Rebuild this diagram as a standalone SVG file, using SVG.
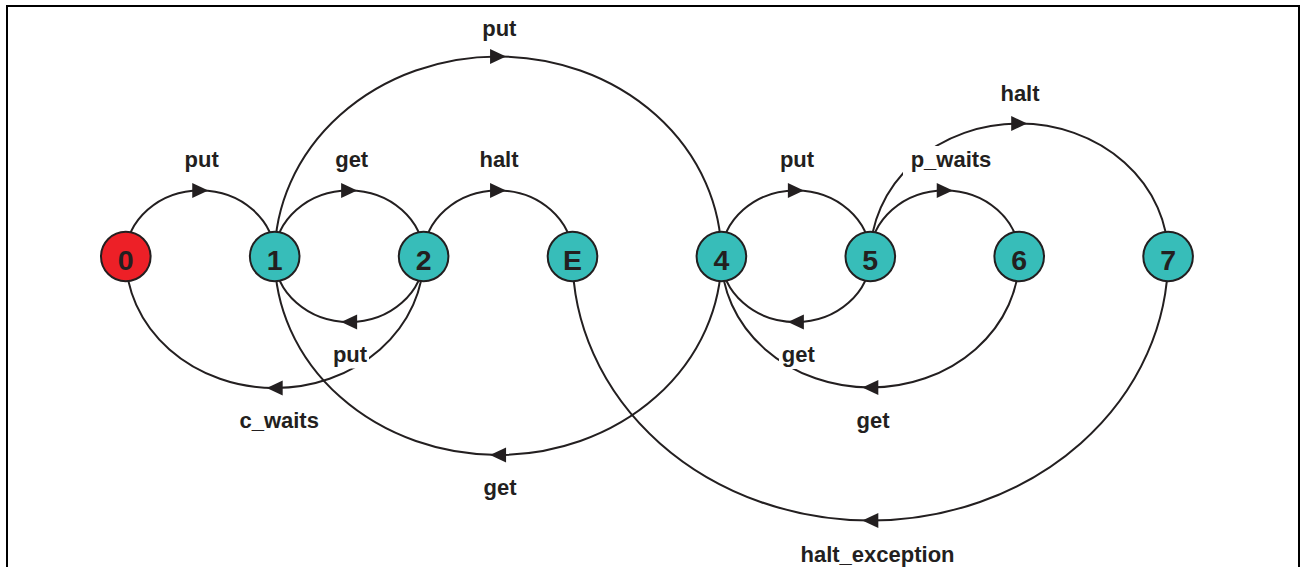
<svg xmlns="http://www.w3.org/2000/svg" width="1302" height="567" viewBox="0 0 1302 567">
<style>
.edge{fill:none;stroke:#231f20;stroke-width:2;marker-mid:url(#arr)}
.node{stroke:#231f20;stroke-width:2}
.red{fill:#ed2027}
.teal{fill:#37bdb9}
.nl{font-family:"Liberation Sans",Arial,sans-serif;font-weight:bold;font-size:28.5px;fill:#231f20;text-anchor:middle}
.lbl{font-family:"Liberation Sans",Arial,sans-serif;font-weight:bold;font-size:22px;fill:#231f20;text-anchor:middle}
.bg{fill:#ffffff}
</style>
<defs>
<marker id="arr" viewBox="-9 -9 18 18" refX="0" refY="0" markerWidth="18" markerHeight="18" markerUnits="userSpaceOnUse" orient="auto">
<path d="M-8,-7.5 L8,0 L-8,7.5 Z" fill="#231f20"/>
</marker>
</defs>
<rect x="0" y="0" width="1302" height="567" fill="#ffffff"/>
<path d="M7,568 V6 H1299 V568" fill="none" stroke="#000000" stroke-width="2"/>
<g id="connectors">
<path class="edge" d="M125.8,256.5 A74.45,66 0 0 1 200.25,190.5 A74.45,66 0 0 1 274.7,256.5"/>
<path class="edge" d="M274.7,256.5 A74.45,66 0 0 1 349.15,190.5 A74.45,66 0 0 1 423.6,256.5"/>
<path class="edge" d="M423.6,256.5 A74.45,66 0 0 1 498.05,190.5 A74.45,66 0 0 1 572.5,256.5"/>
<path class="edge" d="M721.4,256.5 A74.45,66 0 0 1 795.85,190.5 A74.45,66 0 0 1 870.3,256.5"/>
<path class="edge" d="M870.3,256.5 A74.45,66 0 0 1 944.75,190.5 A74.45,66 0 0 1 1019.2,256.5"/>
<path class="edge" d="M423.6,256.5 A74.45,65.5 0 0 1 349.15,322 A74.45,65.5 0 0 1 274.7,256.5"/>
<path class="edge" d="M870.3,256.5 A74.45,65.5 0 0 1 795.85,322 A74.45,65.5 0 0 1 721.4,256.5"/>
<path class="edge" d="M274.7,256.5 A223.35,200 0 0 1 498.05,56.5 A223.35,200 0 0 1 721.4,256.5"/>
<path class="edge" d="M721.4,256.5 A223.35,198.5 0 0 1 498.05,455 A223.35,198.5 0 0 1 274.7,256.5"/>
<path class="edge" d="M423.6,256.5 A148.9,131.5 0 0 1 274.7,388 A148.9,131.5 0 0 1 125.8,256.5"/>
<path class="edge" d="M1019.2,256.5 A148.9,131 0 0 1 870.3,387.5 A148.9,131 0 0 1 721.4,256.5"/>
<path class="edge" d="M870.3,256.5 A148.9,133 0 0 1 1019.2,123.5 A148.9,133 0 0 1 1168.1,256.5"/>
<path class="edge" d="M1168.1,256.5 A297.8,264 0 0 1 870.3,520.5 A297.8,264 0 0 1 572.5,256.5"/>
</g>
<g id="labels">
<text class="lbl" x="201.7" y="167">put</text>
<text class="lbl" x="351.7" y="167">get</text>
<text class="lbl" x="499" y="167">halt</text>
<text class="lbl" x="499.3" y="36">put</text>
<text class="lbl" x="797" y="167">put</text>
<rect class="bg" x="903" y="146" width="96" height="30"/>
<text class="lbl" x="951" y="167">p_waits</text>
<text class="lbl" x="1020" y="101">halt</text>
<rect class="bg" x="331" y="343" width="38" height="25.5"/>
<text class="lbl" x="350" y="361.5">put</text>
<text class="lbl" x="279.2" y="428">c_waits</text>
<rect class="bg" x="779" y="343" width="39" height="26"/>
<text class="lbl" x="798.3" y="361.5">get</text>
<text class="lbl" x="873" y="428">get</text>
<text class="lbl" x="500" y="495">get</text>
<text class="lbl" x="877.5" y="561.5">halt_exception</text>
</g>
<g id="node-0"><circle class="node red" cx="125.8" cy="256.5" r="24.8"/><text class="nl" x="125.8" y="270">0</text></g>
<g id="node-1"><circle class="node teal" cx="274.7" cy="256.5" r="24.8"/><text class="nl" x="274.7" y="270">1</text></g>
<g id="node-2"><circle class="node teal" cx="423.6" cy="256.5" r="24.8"/><text class="nl" x="423.6" y="270">2</text></g>
<g id="node-E"><circle class="node teal" cx="572.5" cy="256.5" r="24.8"/><text class="nl" x="572.5" y="270">E</text></g>
<g id="node-4"><circle class="node teal" cx="721.4" cy="256.5" r="24.8"/><text class="nl" x="721.4" y="270">4</text></g>
<g id="node-5"><circle class="node teal" cx="870.3" cy="256.5" r="24.8"/><text class="nl" x="870.3" y="270">5</text></g>
<g id="node-6"><circle class="node teal" cx="1019.2" cy="256.5" r="24.8"/><text class="nl" x="1019.2" y="270">6</text></g>
<g id="node-7"><circle class="node teal" cx="1168.1" cy="256.5" r="24.8"/><text class="nl" x="1168.1" y="270">7</text></g>
</svg>
